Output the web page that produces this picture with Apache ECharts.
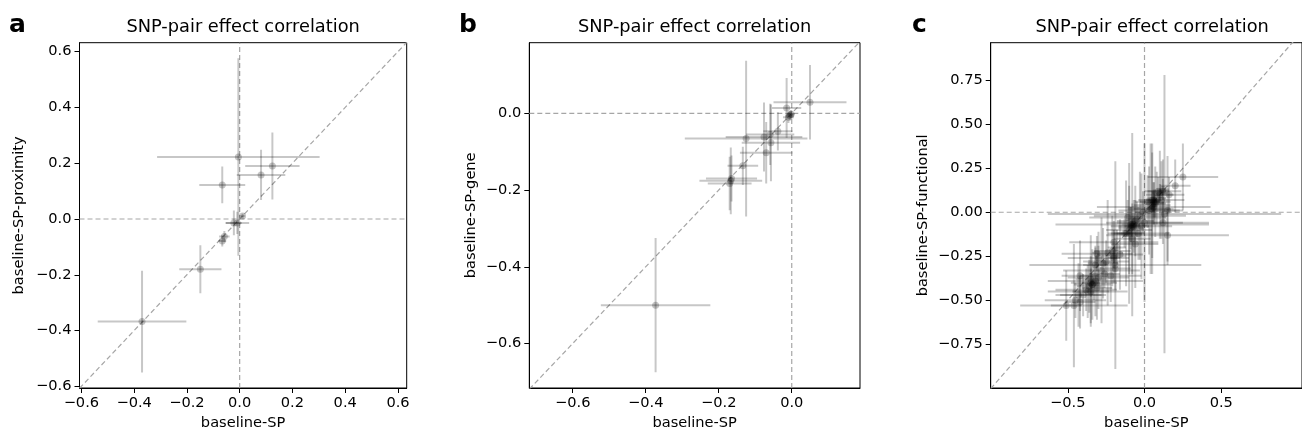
<!DOCTYPE html>
<html>
<head>
<meta charset="utf-8">
<script src="https://cdn.jsdelivr.net/npm/echarts@6/dist/echarts.min.js"></script>
<style>
html,body{margin:0;padding:0;background:#fff;}
#chart{width:1302px;height:436px;}
</style>
</head>
<body>
<div id="chart"></div>
<script>
// ---- data ----
const panelLetters = ['a', 'b', 'c'];
const titleText = 'SNP-pair effect correlation';
const xNames = ['baseline-SP', 'baseline-SP', 'baseline-SP'];
const yNames = ['baseline-SP-proximity', 'baseline-SP-gene', 'baseline-SP-functional'];

const xTicksA = [-0.6, -0.4, -0.2, 0, 0.2, 0.4, 0.6];
const yTicksA = [-0.6, -0.4, -0.2, 0, 0.2, 0.4, 0.6];
const xTicksB = [-0.6, -0.4, -0.2, 0];
const yTicksB = [-0.6, -0.4, -0.2, 0];
const xTicksC = [-0.5, 0, 0.5];
const yTicksC = [-0.75, -0.5, -0.25, 0, 0.25, 0.5, 0.75];

const xRangeA = [-0.607, 0.633], yRangeA = [-0.606, 0.632];
const xRangeB = [-0.719, 0.187], yRangeB = [-0.716, 0.184];
const xRangeC = [-1.002, 1.026], yRangeC = [-0.998, 0.963];

// rows: [x, y, xerr, yerr]
const pointsA = [
  [-0.005, 0.222, 0.308, 0.354],
  [0.124, 0.190, 0.103, 0.120],
  [0.081, 0.158, 0.092, 0.090],
  [-0.066, 0.122, 0.087, 0.066],
  [0.011, 0.011, 0.008, 0.008],
  [-0.009, -0.014, 0.045, 0.040],
  [-0.022, -0.014, 0.030, 0.044],
  [-0.058, -0.063, 0.020, 0.020],
  [-0.066, -0.079, 0.015, 0.020],
  [-0.149, -0.180, 0.080, 0.086],
  [-0.370, -0.368, 0.168, 0.182]
];

const pointsB = [
  [0.050, 0.029, 0.100, 0.097],
  [-0.014, 0.014, 0.040, 0.078],
  [-0.005, -0.006, 0.012, 0.012],
  [-0.009, -0.010, 0.015, 0.015],
  [-0.002, -0.002, 0.010, 0.010],
  [-0.038, -0.047, 0.040, 0.050],
  [-0.059, -0.055, 0.066, 0.080],
  [-0.076, -0.062, 0.105, 0.090],
  [-0.125, -0.066, 0.168, 0.203],
  [-0.057, -0.077, 0.080, 0.100],
  [-0.070, -0.103, 0.072, 0.080],
  [-0.134, -0.137, 0.042, 0.050],
  [-0.167, -0.176, 0.086, 0.087],
  [-0.165, -0.170, 0.070, 0.060],
  [-0.170, -0.183, 0.060, 0.070],
  [-0.373, -0.500, 0.150, 0.175]
];

const pointsC = [
  [0.25, 0.20, 0.23, 0.19],
  [0.20, 0.15, 0.10, 0.15],
  [0.13, -0.01, 0.76, 0.79],
  [0.12, 0.12, 0.12, 0.18],
  [0.10, 0.10, 0.09, 0.25],
  [0.07, 0.06, 0.10, 0.20],
  [0.06, 0.05, 0.08, 0.12],
  [0.05, 0.04, 0.12, 0.30],
  [0.06, 0.07, 0.05, 0.10],
  [0.04, 0.02, 0.15, 0.37],
  [0.08, 0.08, 0.06, 0.15],
  [0.03, 0.01, 0.20, 0.25],
  [0.15, 0.01, 0.10, 0.31],
  [0.00, -0.06, 0.25, 0.45],
  [0.05, 0.02, 0.12, 0.37],
  [0.12, -0.06, 0.30, 0.12],
  [0.15, -0.13, 0.40, 0.15],
  [0.06, 0.03, 0.37, 0.10],
  [0.02, 0.06, 0.08, 0.15],
  [0.09, 0.12, 0.07, 0.08],
  [-0.01, 0.00, 0.05, 0.12],
  [0.11, 0.07, 0.15, 0.22],
  [0.16, 0.10, 0.10, 0.10],
  [0.06, 0.06, 0.04, 0.06],
  [0.07, 0.05, 0.06, 0.08],
  [0.05, 0.07, 0.03, 0.05],
  [0.12, 0.13, 0.04, 0.06],
  [0.10, 0.11, 0.05, 0.05],
  [-0.08, -0.07, 0.50, 0.52],
  [-0.07, -0.08, 0.10, 0.15],
  [-0.09, -0.09, 0.08, 0.12],
  [-0.06, -0.05, 0.12, 0.20],
  [-0.10, -0.10, 0.15, 0.25],
  [-0.05, -0.04, 0.06, 0.10],
  [-0.12, -0.12, 0.10, 0.30],
  [-0.04, -0.12, 0.20, 0.15],
  [-0.08, -0.15, 0.12, 0.20],
  [-0.03, -0.02, 0.30, 0.25],
  [-0.02, -0.08, 0.20, 0.30],
  [-0.11, -0.03, 0.25, 0.10],
  [-0.06, -0.18, 0.15, 0.25],
  [-0.10, -0.12, 0.10, 0.40],
  [-0.08, -0.08, 0.05, 0.06],
  [-0.07, -0.07, 0.04, 0.05],
  [-0.09, -0.07, 0.06, 0.10],
  [-0.13, -0.12, 0.05, 0.08],
  [-0.24, -0.23, 0.10, 0.30],
  [-0.20, -0.17, 0.29, 0.12],
  [-0.31, -0.235, 0.23, 0.10],
  [-0.19, -0.30, 0.56, 0.59],
  [-0.20, -0.25, 0.08, 0.15],
  [-0.20, -0.26, 0.04, 0.06],
  [-0.21, -0.22, 0.12, 0.20],
  [-0.25, -0.28, 0.15, 0.12],
  [-0.27, -0.29, 0.10, 0.20],
  [-0.19, -0.32, 0.10, 0.12],
  [-0.22, -0.36, 0.20, 0.15],
  [-0.28, -0.33, 0.25, 0.30],
  [-0.18, -0.20, 0.06, 0.10],
  [-0.16, -0.24, 0.15, 0.20],
  [-0.30, -0.26, 0.20, 0.15],
  [-0.32, -0.39, 0.31, 0.20],
  [-0.34, -0.41, 0.12, 0.20],
  [-0.34, -0.41, 0.05, 0.06],
  [-0.35, -0.40, 0.06, 0.08],
  [-0.36, -0.42, 0.08, 0.15],
  [-0.33, -0.40, 0.15, 0.10],
  [-0.35, -0.38, 0.10, 0.25],
  [-0.38, -0.44, 0.20, 0.12],
  [-0.31, -0.43, 0.10, 0.18],
  [-0.37, -0.45, 0.26, 0.15],
  [-0.46, -0.53, 0.35, 0.35],
  [-0.51, -0.53, 0.10, 0.20],
  [-0.43, -0.47, 0.15, 0.18],
  [-0.42, -0.36, 0.12, 0.20],
  [-0.45, -0.50, 0.20, 0.10],
  [-0.42, -0.51, 0.10, 0.15],
  [-0.32, -0.30, 0.08, 0.10],
  [-0.26, -0.35, 0.10, 0.08],
  [-0.40, -0.47, 0.15, 0.12],
  [-0.35, -0.45, 0.12, 0.20],
  [-0.30, -0.37, 0.20, 0.18]
];

// ---- chart ----
const FONT = 'DejaVu Sans';
const chart = echarts.init(document.getElementById('chart'), null, {renderer: 'canvas'});

const panels = [
  {pts: pointsA, xr: xRangeA, yr: yRangeA, xt: xTicksA, yt: yTicksA, xd: 1, yd: 1,
   grid: {left: 79.5, top: 42.7, width: 327.2, height: 347.3}, yGap: 53},
  {pts: pointsB, xr: xRangeB, yr: yRangeB, xt: xTicksB, yt: yTicksB, xd: 1, yd: 1,
   grid: {left: 529.3, top: 42.7, width: 330.7, height: 347.3}, yGap: 51},
  {pts: pointsC, xr: xRangeC, yr: yRangeC, xt: xTicksC, yt: yTicksC, xd: 1, yd: 2,
   grid: {left: 990.7, top: 42.7, width: 331, height: 348}, yGap: 60}
];

function fmt(d) {
  return function (v) { return Number(v).toFixed(d).replace('-', '\u2212'); };
}

function renderErr(params, api) {
  const x = api.value(0), y = api.value(1), xe = api.value(2), ye = api.value(3);
  const h0 = api.coord([x - xe, y]), h1 = api.coord([x + xe, y]);
  const v0 = api.coord([x, y - ye]), v1 = api.coord([x, y + ye]);
  const style = {stroke: 'rgba(0,0,0,0.22)', lineWidth: 2};
  return {
    type: 'group',
    children: [
      {type: 'line', shape: {x1: h0[0], y1: h0[1], x2: h1[0], y2: h1[1]}, style: style},
      {type: 'line', shape: {x1: v0[0], y1: v0[1], x2: v1[0], y2: v1[1]}, style: style}
    ]
  };
}

const grids = [], xAxes = [], yAxes = [], series = [], graphics = [];
const dashStyle = {color: '#a6a6a6', width: 1.2, type: [5, 3]};

panels.forEach(function (p, i) {
  grids.push(Object.assign({show: true, borderColor: '#000', borderWidth: 1, backgroundColor: 'transparent', containLabel: false}, p.grid));
  const axisCommon = {
    type: 'value', gridIndex: i, nameLocation: 'middle',
    nameTextStyle: {fontFamily: FONT, fontSize: 14.6, color: '#000'},
    axisLine: {show: true, onZero: false, lineStyle: {color: '#000', width: 1}},
    splitLine: {show: false}
  };
  xAxes.push(Object.assign({}, axisCommon, {
    min: p.xr[0], max: p.xr[1], name: xNames[i], nameGap: 28,
    axisTick: {show: true, length: 5, customValues: p.xt, lineStyle: {color: '#000'}},
    axisLabel: {customValues: p.xt, formatter: fmt(p.xd), fontFamily: FONT, fontSize: 14.6, color: '#000', margin: 8}
  }));
  yAxes.push(Object.assign({}, axisCommon, {
    min: p.yr[0], max: p.yr[1], name: yNames[i], nameGap: p.yGap,
    axisTick: {show: true, length: 5, customValues: p.yt, lineStyle: {color: '#000'}},
    axisLabel: {customValues: p.yt, formatter: fmt(p.yd), fontFamily: FONT, fontSize: 14.6, color: '#000', margin: 8}
  }));
  const lo = Math.min(p.xr[0], p.yr[0]), hi = Math.max(p.xr[1], p.yr[1]);
  series.push({type: 'line', xAxisIndex: i, yAxisIndex: i, data: [[lo, lo], [hi, hi]], symbol: 'none', lineStyle: dashStyle, silent: true, z: 1, clip: true});
  series.push({type: 'line', xAxisIndex: i, yAxisIndex: i, data: [[p.xr[0], 0], [p.xr[1], 0]], symbol: 'none', lineStyle: dashStyle, silent: true, z: 1});
  series.push({type: 'line', xAxisIndex: i, yAxisIndex: i, data: [[0, p.yr[0]], [0, p.yr[1]]], symbol: 'none', lineStyle: dashStyle, silent: true, z: 1});
  series.push({type: 'custom', xAxisIndex: i, yAxisIndex: i, data: p.pts, renderItem: renderErr, clip: true, silent: true, z: 2, encode: {x: 0, y: 1}});
  series.push({type: 'scatter', xAxisIndex: i, yAxisIndex: i, data: p.pts.map(function (r) { return [r[0], r[1]]; }),
    symbolSize: 7, itemStyle: {color: 'rgba(0,0,0,0.28)'}, silent: true, z: 3, clip: true});
  graphics.push({type: 'text', x: p.grid.left + p.grid.width / 2 - (i === 2 ? 4 : 0), y: 27.5,
    style: {text: titleText, font: '17.8px "DejaVu Sans"', fill: '#000', align: 'center', verticalAlign: 'middle', textAlign: 'center', textVerticalAlign: 'middle'}});
});

graphics.push({type: 'text', x: 9, y: 25, style: {text: panelLetters[0], font: 'bold 25px "DejaVu Sans"', fill: '#000', align: 'left', verticalAlign: 'middle'}});
graphics.push({type: 'text', x: 459, y: 25, style: {text: panelLetters[1], font: 'bold 25px "DejaVu Sans"', fill: '#000', align: 'left', verticalAlign: 'middle'}});
graphics.push({type: 'text', x: 912, y: 25, style: {text: panelLetters[2], font: 'bold 25px "DejaVu Sans"', fill: '#000', align: 'left', verticalAlign: 'middle'}});

chart.setOption({
  animation: false,
  backgroundColor: '#fff',
  grid: grids,
  xAxis: xAxes,
  yAxis: yAxes,
  series: series,
  graphic: graphics
});
</script>
</body>
</html>
